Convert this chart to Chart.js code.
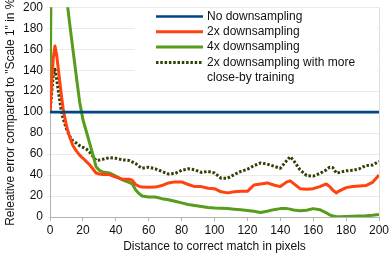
<!DOCTYPE html>
<html>
<head>
<meta charset="utf-8">
<script src="https://cdn.jsdelivr.net/npm/chart.js@4/dist/chart.umd.min.js"></script>
<style>
html,body{margin:0;padding:0;background:#fff;}
#wrap{width:390px;height:258px;}
</style>
</head>
<body>
<div id="wrap"><canvas id="c" width="390" height="258"></canvas></div>
<script>
const distances = [0,1,2,3,4,5,6,7,8,10,12,14,16,18,20,22,24,26,28,30,32,36,40,44,48,50,52,54,56,60,64,68,72,76,80,84,88,92,96,100,104,108,112,116,120,124,128,132,136,140,144,146,148,152,156,160,164,168,170,172,174,176,180,184,188,192,196,200];

const noDownsampling = [100,100,100,100,100,100,100,100,100,100,100,100,100,100,100,100,100,100,100,100,100,100,100,100,100,100,100,100,100,100,100,100,100,100,100,100,100,100,100,100,100,100,100,100,100,100,100,100,100,100,100,100,100,100,100,100,100,100,100,100,100,100,100,100,100,100,100,100];

const twoX = [100,128,152,163,155,142,128,115,103,87,76,68,63,59,56,53,50,46,42,41,40.5,40.5,38,36,36,35,31,29.5,28.5,28.3,28.5,30,32.5,33.5,33.5,31,29,29,27.5,27,24,23,24,24.5,24.5,30.5,31.5,32.5,30.5,29,33.5,34.5,32,27,26.5,27,29,31.5,29,25.5,23,25,28,29,29.5,30,33,40];

const fourX = [100,290,300,300,295,285,270,255,240,210,184,159,134,110,93,82,71,60,48,44.5,43,42,39,35.5,33,31.5,26,22.5,20,19,19,17.5,16.5,15,13.5,12,11,10,9,8.5,8.3,8,7.5,7,6.3,5.5,4.3,5.5,7,8,8,7.5,6.7,6,6.5,8,7,4,2,1,0.5,0.3,0.5,0.8,1,1.2,1.6,2.5];

const twoXCloseBy = [100,118,135,141,132,121,110,100,94,84,77,72.5,70.5,68,66.5,65,62,58,54,54.3,55,56.5,56,54.5,54,52.5,51,48.5,46.5,47.5,46,43.5,41,41.5,44.5,46,45,42.5,43.5,42,37,37,40.5,43.5,45.5,49,51.5,50.5,48.5,46.5,54,57.5,54,45,39.5,39,41.5,45,47.5,47,42,42.5,44,44.5,46,49,49.5,53];

const seriesLabels = ["No downsampling","2x downsampling","4x downsampling","2x downsampling with more close-by training"];
const yTicks = [0,20,40,60,80,100,120,140,160,180,200];
const xTicks = [0,20,40,60,80,100,120,140,160,180,200];

const FONT = "'Liberation Sans', Arial, sans-serif";

function pts(arr){ return distances.map((d,i)=>({x:d,y:arr[i]})); }

const insideLegend = {
  id:'insideLegend',
  afterDatasetsDraw(chart){
    const ctx = chart.ctx, a = chart.chartArea;
    ctx.save();
    ctx.fillStyle = '#ffffff';
    ctx.fillRect(a.left+85, a.top+2, a.right-a.left-87, 80);
    ctx.font = '12px ' + FONT;
    ctx.textBaseline = 'middle';
    ctx.textAlign = 'left';
    const lineX0 = a.left+106, lineX1 = a.left+153, textX = a.left+157;
    const maxW = a.right - textX - 6;
    let y = a.top + 9.2;
    const step = 15.3;
    chart.data.datasets.forEach(ds=>{
      ctx.save();
      ctx.strokeStyle = ds.borderColor;
      ctx.lineWidth = ds.borderWidth;
      ctx.setLineDash(ds.borderDash || []);
      ctx.lineCap = 'butt';
      ctx.beginPath(); ctx.moveTo(lineX0, y); ctx.lineTo(lineX1, y); ctx.stroke();
      ctx.restore();
      const words = ds.label.split(' ');
      const lines = []; let cur = '';
      words.forEach(w=>{
        const t = cur ? cur+' '+w : w;
        if (ctx.measureText(t).width > maxW && cur){ lines.push(cur); cur = w; } else cur = t;
      });
      lines.push(cur);
      ctx.fillStyle = '#111';
      lines.forEach((ln,k)=>{ ctx.fillText(ln, textX, y + k*step); });
      y += step*lines.length;
    });
    ctx.restore();
  }
};

new Chart(document.getElementById('c'), {
  type:'line',
  data:{
    datasets:[
      {label:seriesLabels[0], data:pts(noDownsampling), borderColor:'#004586', borderWidth:2.6, pointRadius:0, order:1},
      {label:seriesLabels[1], data:pts(twoX), borderColor:'#ff420e', borderWidth:3, pointRadius:0, order:2},
      {label:seriesLabels[2], data:pts(fourX), borderColor:'#579d1c', borderWidth:3, pointRadius:0, order:3},
      {label:seriesLabels[3], data:pts(twoXCloseBy), borderColor:'#314004', borderWidth:3, borderDash:[2.5,1.8], pointRadius:0, order:4}
    ]
  },
  options:{
    responsive:false,
    animation:false,
    devicePixelRatio:1,
    layout:{padding:{top:7.3,right:11,left:0,bottom:0}},
    elements:{line:{tension:0, borderJoinStyle:'round', borderCapStyle:'butt'}},
    plugins:{legend:{display:false}, tooltip:{enabled:false}},
    scales:{
      x:{
        type:'linear', min:0, max:200,
        afterFit(s){ s.height = 41; s.paddingLeft = 0; s.paddingRight = 0; },
        afterBuildTicks(s){ s.ticks = xTicks.map(v=>({value:v})); },
        grid:{
          color:(c)=> (c.tick && c.tick.value===200) ? '#dddddd' : 'rgba(0,0,0,0)',
          tickColor:'#b3b3b3', tickLength:4, drawTicks:true
        },
        border:{color:'#b3b3b3', width:1},
        ticks:{color:'#111', font:{family:FONT,size:12}, padding:2, maxRotation:0, autoSkip:false},
        title:{display:true, text:'Distance to correct match in pixels', color:'#111', font:{family:FONT,size:12}, padding:{top:0,bottom:4}}
      },
      y:{
        type:'linear', min:0, max:200,
        afterFit(s){ s.width = 50; s.paddingTop = 0; s.paddingBottom = 0; },
        afterBuildTicks(s){ s.ticks = yTicks.map(v=>({value:v})); },
        grid:{color:'#ebebeb', tickColor:'#ebebeb', tickLength:3},
        border:{color:'#b3b3b3', width:1},
        ticks:{color:'#111', font:{family:FONT,size:12}, padding:4},
        title:{display:true, text:'Releative error compared to "Scale 1" in %', color:'#111', font:{family:FONT,size:12}, padding:{top:3,bottom:0}}
      }
    }
  },
  plugins:[insideLegend]
});
</script>
</body>
</html>
